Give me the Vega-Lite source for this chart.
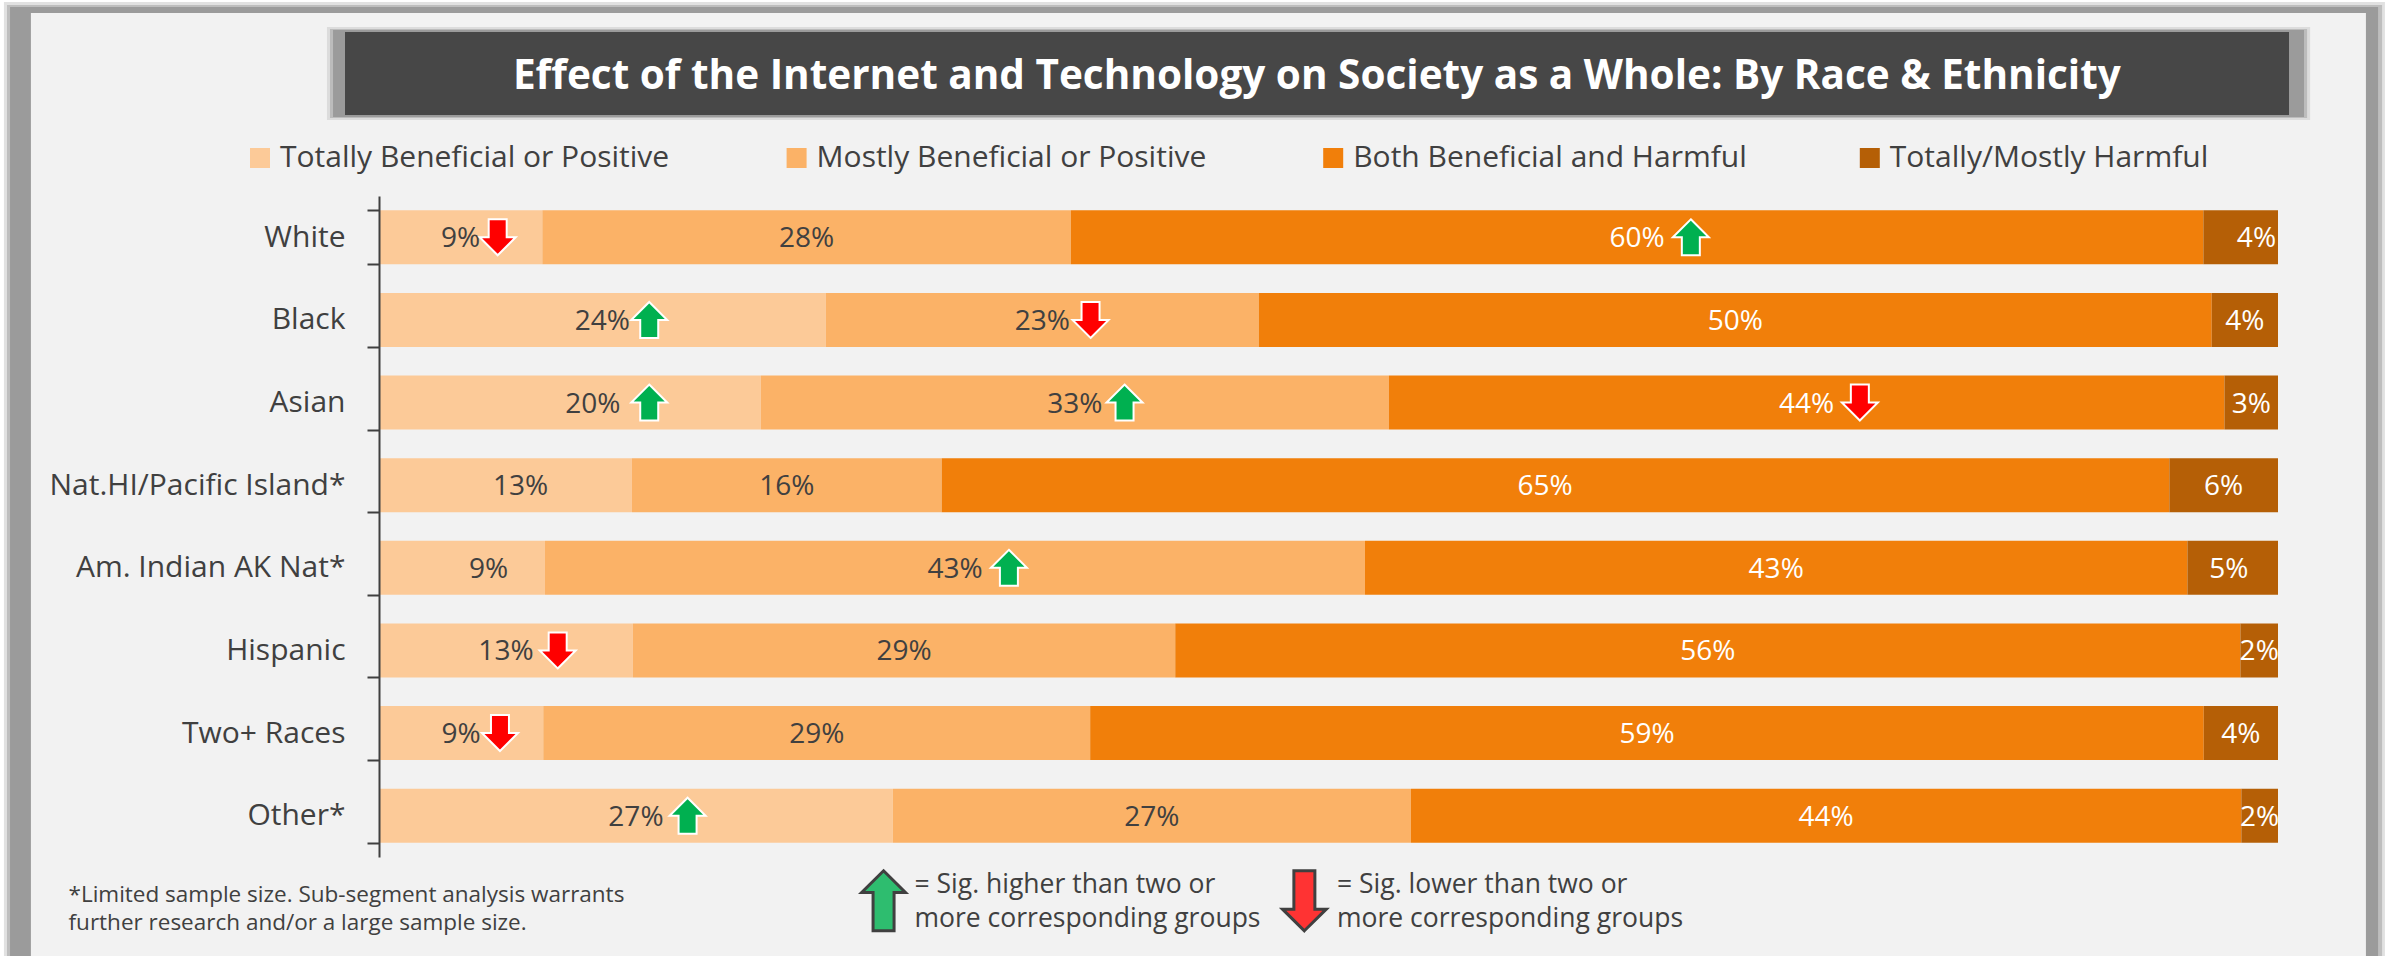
{
"$schema":"https://vega.github.io/schema/vega-lite/v6.json",
"width":1899,"height":661,
"padding":{"left":379,"top":196,"right":111,"bottom":99},
"autosize":{"type":"none"},
"background":"#ffffff",
"view":{"stroke":null},
"datasets":{
"bars":[
{"group":"White","seg":1,"category":"Totally Beneficial or Positive","value":8.60,"label":"9%"},
{"group":"White","seg":2,"category":"Mostly Beneficial or Positive","value":27.83,"label":"28%"},
{"group":"White","seg":3,"category":"Both Beneficial and Harmful","value":59.64,"label":"60%"},
{"group":"White","seg":4,"category":"Totally/Mostly Harmful","value":3.93,"label":"4%","nudge":0.83},
{"group":"Black","seg":1,"category":"Totally Beneficial or Positive","value":23.53,"label":"24%"},
{"group":"Black","seg":2,"category":"Mostly Beneficial or Positive","value":22.80,"label":"23%"},
{"group":"Black","seg":3,"category":"Both Beneficial and Harmful","value":50.18,"label":"50%"},
{"group":"Black","seg":4,"category":"Totally/Mostly Harmful","value":3.49,"label":"4%"},
{"group":"Asian","seg":1,"category":"Totally Beneficial or Positive","value":20.11,"label":"20%","nudge":1.2},
{"group":"Asian","seg":2,"category":"Mostly Beneficial or Positive","value":33.07,"label":"33%"},
{"group":"Asian","seg":3,"category":"Both Beneficial and Harmful","value":44.00,"label":"44%"},
{"group":"Asian","seg":4,"category":"Totally/Mostly Harmful","value":2.82,"label":"3%"},
{"group":"Nat.HI/Pacific Island*","seg":1,"category":"Totally Beneficial or Positive","value":13.32,"label":"13%","nudge":0.8},
{"group":"Nat.HI/Pacific Island*","seg":2,"category":"Mostly Beneficial or Positive","value":16.31,"label":"16%"},
{"group":"Nat.HI/Pacific Island*","seg":3,"category":"Both Beneficial and Harmful","value":64.65,"label":"65%","nudge":-0.55},
{"group":"Nat.HI/Pacific Island*","seg":4,"category":"Totally/Mostly Harmful","value":5.72,"label":"6%"},
{"group":"Am. Indian AK Nat*","seg":1,"category":"Totally Beneficial or Positive","value":8.74,"label":"9%","nudge":1.4},
{"group":"Am. Indian AK Nat*","seg":2,"category":"Mostly Beneficial or Positive","value":43.18,"label":"43%"},
{"group":"Am. Indian AK Nat*","seg":3,"category":"Both Beneficial and Harmful","value":43.31,"label":"43%"},
{"group":"Am. Indian AK Nat*","seg":4,"category":"Totally/Mostly Harmful","value":4.77,"label":"5%","nudge":-0.2},
{"group":"Hispanic","seg":1,"category":"Totally Beneficial or Positive","value":13.37,"label":"13%"},
{"group":"Hispanic","seg":2,"category":"Mostly Beneficial or Positive","value":28.56,"label":"29%"},
{"group":"Hispanic","seg":3,"category":"Both Beneficial and Harmful","value":56.09,"label":"56%"},
{"group":"Hispanic","seg":4,"category":"Totally/Mostly Harmful","value":1.98,"label":"2%"},
{"group":"Two+ Races","seg":1,"category":"Totally Beneficial or Positive","value":8.65,"label":"9%"},
{"group":"Two+ Races","seg":2,"category":"Mostly Beneficial or Positive","value":28.80,"label":"29%"},
{"group":"Two+ Races","seg":3,"category":"Both Beneficial and Harmful","value":58.64,"label":"59%"},
{"group":"Two+ Races","seg":4,"category":"Totally/Mostly Harmful","value":3.91,"label":"4%"},
{"group":"Other*","seg":1,"category":"Totally Beneficial or Positive","value":27.06,"label":"27%"},
{"group":"Other*","seg":2,"category":"Mostly Beneficial or Positive","value":27.28,"label":"27%"},
{"group":"Other*","seg":3,"category":"Both Beneficial and Harmful","value":43.73,"label":"44%"},
{"group":"Other*","seg":4,"category":"Totally/Mostly Harmful","value":1.93,"label":"2%"}
],
"arrows":[
{"group":"White","change":"lower","at":6.25},
{"group":"White","change":"higher","at":69.08},
{"group":"Black","change":"higher","at":14.23},
{"group":"Black","change":"lower","at":37.47},
{"group":"Asian","change":"higher","at":14.23},
{"group":"Asian","change":"higher","at":39.26},
{"group":"Asian","change":"lower","at":77.98},
{"group":"Am. Indian AK Nat*","change":"higher","at":33.17},
{"group":"Hispanic","change":"lower","at":9.41},
{"group":"Two+ Races","change":"lower","at":6.37},
{"group":"Other*","change":"higher","at":16.25}
]
},
"resolve":{"scale":{"y":"independent"},"axis":{"y":"independent"}},
"layer":[
{"data":{"values":[{}]},"layer":[
{"mark":{"type":"rect","color":"#9b9b9b","opacity":0.3},"encoding":{"x":{"datum":-19.75,"type":"quantitative","scale":{"domain":[0,100],"nice":false,"zero":false},"axis":null},"x2":{"datum":105.63},"y":{"datum":-2.348,"type":"quantitative","scale":{"domain":[0,8],"reverse":true,"nice":false,"zero":false},"axis":null},"y2":{"datum":9.25}}},
{"mark":{"type":"rect","color":"#9b9b9b","opacity":0.5},"encoding":{"x":{"datum":-19.59,"type":"quantitative"},"x2":{"datum":105.48},"y":{"datum":-2.312,"type":"quantitative"},"y2":{"datum":9.25}}},
{"mark":{"type":"rect","color":"#9b9b9b"},"encoding":{"x":{"datum":-19.43,"type":"quantitative"},"x2":{"datum":105.27},"y":{"datum":-2.287,"type":"quantitative"},"y2":{"datum":9.25}}},
{"mark":{"type":"rect","color":"#f2f2f2"},"encoding":{"x":{"datum":-18.33,"type":"quantitative"},"x2":{"datum":104.63},"y":{"datum":-2.215,"type":"quantitative"},"y2":{"datum":9.25}}},
{"mark":{"type":"rect","color":"#9b9b9b","opacity":0.25},"encoding":{"x":{"datum":-2.74,"type":"quantitative"},"x2":{"datum":101.69},"y":{"datum":-2.045,"type":"quantitative"},"y2":{"datum":-0.92}}},
{"mark":{"type":"rect","color":"#9b9b9b","opacity":0.5},"encoding":{"x":{"datum":-2.58,"type":"quantitative"},"x2":{"datum":101.53},"y":{"datum":-2.021,"type":"quantitative"},"y2":{"datum":-0.944}}},
{"mark":{"type":"rect","color":"#9b9b9b"},"encoding":{"x":{"datum":-2.42,"type":"quantitative"},"x2":{"datum":101.37},"y":{"datum":-2.009,"type":"quantitative"},"y2":{"datum":-0.956}}},
{"mark":{"type":"rect","color":"#474747"},"encoding":{"x":{"datum":-1.79,"type":"quantitative"},"x2":{"datum":100.58},"y":{"datum":-1.985,"type":"quantitative"},"y2":{"datum":-0.98}}},
{"mark":{"type":"text","text":"Effect of the Internet and Technology on Society as a Whole: By Race & Ethnicity","align":"left","baseline":"alphabetic","font":"Open Sans","fontWeight":"bold","fontSize":40.5,"color":"#ffffff"},"encoding":{"x":{"datum":7.05,"type":"quantitative"},"y":{"datum":-1.3,"type":"quantitative"}}},
{"mark":{"type":"text","text":["*Limited sample size. Sub-segment analysis warrants","further research and/or a large sample size."],"align":"left","baseline":"alphabetic","font":"Open Sans","fontSize":22.5,"lineHeight":28.4,"color":"#404040"},"encoding":{"x":{"datum":-16.35,"type":"quantitative"},"y":{"datum":8.54,"type":"quantitative"}}},
{"mark":{"type":"text","text":["= Sig. higher than two or","more corresponding groups"],"align":"left","baseline":"alphabetic","font":"Open Sans","fontSize":26.5,"lineHeight":33.7,"color":"#404040"},"encoding":{"x":{"datum":28.2,"type":"quantitative"},"y":{"datum":8.436,"type":"quantitative"}}},
{"mark":{"type":"text","text":["= Sig. lower than two or","more corresponding groups"],"align":"left","baseline":"alphabetic","font":"Open Sans","fontSize":26.5,"lineHeight":33.7,"color":"#404040"},"encoding":{"x":{"datum":50.45,"type":"quantitative"},"y":{"datum":8.436,"type":"quantitative"}}},
{"mark":{"type":"point","filled":true,"shape":"M0,-1 L0.73,-0.28 L0.35,-0.28 L0.35,1 L-0.35,1 L-0.35,-0.28 L-0.73,-0.28 Z","size":3600,"fill":"#2ebd6f","fillOpacity":1,"stroke":"#404040","strokeWidth":3,"opacity":1},"encoding":{"x":{"datum":26.57,"type":"quantitative"},"y":{"datum":8.53,"type":"quantitative"}}},
{"mark":{"type":"point","filled":true,"shape":"M0,1 L0.73,0.28 L0.35,0.28 L0.35,-1 L-0.35,-1 L-0.35,0.28 L-0.73,0.28 Z","size":3600,"fill":"#ff3333","fillOpacity":1,"stroke":"#404040","strokeWidth":3,"opacity":1},"encoding":{"x":{"datum":48.73,"type":"quantitative"},"y":{"datum":8.53,"type":"quantitative"}}}
]},
{"layer":[
{"data":{"name":"bars"},
"transform":[{"stack":"value","groupby":["group"],"sort":[{"field":"seg","order":"ascending"}],"as":["x0","x1"]}],
"mark":{"type":"bar"},
"encoding":{
"x":{"field":"x0","type":"quantitative","scale":{"domain":[0,100],"nice":false,"zero":false},"axis":null},
"x2":{"field":"x1"},
"y":{"field":"group","type":"nominal","sort":null,"scale":{"domain":["White","Black","Asian","Nat.HI/Pacific Island*","Am. Indian AK Nat*","Hispanic","Two+ Races","Other*"],"paddingInner":0.346,"paddingOuter":0.173},
"axis":{"title":null,"orient":"left","zindex":1,"grid":false,"domainColor":"#404040","domainWidth":2,"tickColor":"#404040","tickWidth":2,"tickSize":12,"tickBand":"extent","labelFont":"Open Sans","labelFontSize":30,"labelColor":"#404040","labelPadding":22,"labelLimit":400}},
"color":{"field":"category","type":"nominal","scale":{"domain":["Totally Beneficial or Positive","Mostly Beneficial or Positive","Both Beneficial and Harmful","Totally/Mostly Harmful"],"range":["#fcca98","#fbb267","#f17f0a","#b55f06"]},
"legend":{"orient":"none","legendX":-134,"legendY":-53,"columns":4,"columnPadding":107.6,"gridAlign":"all","title":null,"symbolType":"square","symbolSize":400,"symbolStrokeWidth":0,"labelFont":"Open Sans","labelFontSize":30,"labelColor":"#404040","labelOffset":5,"labelLimit":500,"padding":0}}
}},
{"data":{"name":"bars"},
"transform":[{"stack":"value","groupby":["group"],"sort":[{"field":"seg","order":"ascending"}],"as":["x0","x1"]},{"calculate":"(datum.x0+datum.x1)/2+(datum.nudge||0)","as":"labelAt"}],
"mark":{"type":"text","font":"Open Sans","fontSize":28,"baseline":"middle","align":"center","dy":2},
"encoding":{
"x":{"field":"labelAt","type":"quantitative"},
"y":{"field":"group","type":"nominal","sort":null},
"text":{"field":"label"},
"color":{"condition":{"test":"datum.seg>=3","value":"#ffffff"},"value":"#404040"}
}},
{"data":{"name":"arrows"},
"mark":{"type":"point","filled":true,"size":1296,"fillOpacity":1,"opacity":1,"stroke":"#ffffff","strokeWidth":2},
"encoding":{
"x":{"field":"at","type":"quantitative"},
"y":{"field":"group","type":"nominal","sort":null},
"shape":{"field":"change","type":"nominal","scale":{"domain":["higher","lower"],"range":["M0,-1 L1,0 L0.5,0 L0.5,1 L-0.5,1 L-0.5,0 L-1,0 Z","M0,1 L1,0 L0.5,0 L0.5,-1 L-0.5,-1 L-0.5,0 L-1,0 Z"]},"legend":null},
"fill":{"field":"change","type":"nominal","scale":{"domain":["higher","lower"],"range":["#00b050","#ff0000"]},"legend":null}
}}
]}
]
}
